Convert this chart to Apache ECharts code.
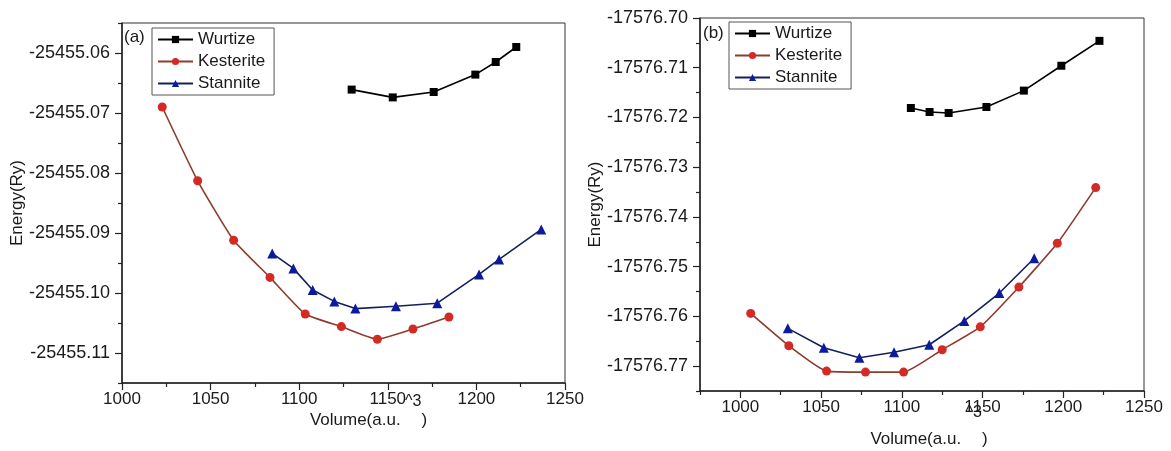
<!DOCTYPE html>
<html>
<head>
<meta charset="utf-8">
<script src="https://cdn.jsdelivr.net/npm/echarts@6/dist/echarts.min.js"></script>
<style>
  html, body { margin: 0; padding: 0; background: #fff; }
  #chart { width: 1171px; height: 451px; }
</style>
</head>
<body>
<div id="chart"></div>
<script>
// Panel (a): total energy versus cell volume
const aVolW = [1129.6, 1152.8, 1175.9, 1199.4, 1210.9, 1222.5];
const aEW   = [-25455.0661, -25455.0674, -25455.0665, -25455.0636, -25455.0615, -25455.0590];
const aVolK = [1022.7, 1042.7, 1063.0, 1083.5, 1103.4, 1123.8, 1144.1, 1164.2, 1184.5];
const aEK   = [-25455.0690, -25455.0813, -25455.0912, -25455.0974, -25455.1035, -25455.1056, -25455.1077, -25455.1060, -25455.1040];
const aVolS = [1084.8, 1096.7, 1107.6, 1119.8, 1131.7, 1154.6, 1177.9, 1201.5, 1212.8, 1236.6];
const aES   = [-25455.0934, -25455.0959, -25455.0995, -25455.1014, -25455.1026, -25455.1022, -25455.1017, -25455.0969, -25455.0944, -25455.0894];

// Panel (b)
const bVolW = [1105.6, 1117.2, 1129.0, 1152.4, 1175.6, 1198.8, 1222.4];
const bEW   = [-17576.7181, -17576.7189, -17576.7191, -17576.7179, -17576.7146, -17576.7096, -17576.7046];
const bVolK = [1006.4, 1030.0, 1053.4, 1077.5, 1101.1, 1125.0, 1148.6, 1172.5, 1196.3, 1220.1];
const bEK   = [-17576.7594, -17576.7659, -17576.7710, -17576.7712, -17576.7712, -17576.7667, -17576.7621, -17576.7541, -17576.7453, -17576.7341];
const bVolS = [1029.4, 1051.7, 1073.7, 1095.2, 1117.0, 1138.7, 1160.4, 1182.0];
const bES   = [-17576.7624, -17576.7663, -17576.7683, -17576.7672, -17576.7657, -17576.7609, -17576.7553, -17576.7483];

// Tick values
const aXMajor = [1000, 1050, 1100, 1150, 1200, 1250];
const aXMinor = [1025, 1075, 1125, 1175, 1225];
const aYMajor = [-25455.06, -25455.07, -25455.08, -25455.09, -25455.10, -25455.11];
const aYMinor = [-25455.055, -25455.065, -25455.075, -25455.085, -25455.095, -25455.105, -25455.115];
const bXMajor = [1000, 1050, 1100, 1150, 1200, 1250];
const bXMinor = [975, 1025, 1075, 1125, 1175, 1225];
const bYMajor = [-17576.70, -17576.71, -17576.72, -17576.73, -17576.74, -17576.75, -17576.76, -17576.77];
const bYMinor = [-17576.705, -17576.715, -17576.725, -17576.735, -17576.745, -17576.755, -17576.765, -17576.775];

const seriesNames = ['Wurtize', 'Kesterite', 'Stannite'];

const FONT = '"Liberation Sans", Arial, sans-serif';
const TXT = '#1a1a1a';
const AXIS = '#222';

const zip = (xs, ys) => xs.map((x, i) => [x, ys[i]]);

function styleFor(name) {
  if (name === 'Wurtize') return { color: '#000', line: '#000', symbol: 'rect', size: 8 };
  if (name === 'Kesterite') return { color: '#d42a25', line: '#8e3a2c', symbol: 'circle', size: 9 };
  return { color: '#0c1a9c', line: '#14205e', symbol: 'triangle', size: 10 };
}

function makeSeries(name, data, gridIdx) {
  const s = styleFor(name);
  return {
    name, type: 'line', data,
    xAxisIndex: gridIdx * 2, yAxisIndex: gridIdx * 2,
    symbol: s.symbol, symbolSize: s.size,
    smooth: name === 'Kesterite' ? 0.15 : false,
    itemStyle: { color: s.color },
    lineStyle: { color: s.line, width: 1.6 },
    emphasis: { disabled: true },
    animation: false
  };
}

// supPad lifts the "^3" exponent above the base line of the axis title
function xAxes(gridIndex, min, max, major, minor, nameGap, shift, supPad) {
  return [{
    type: 'value', gridIndex, min, max,
    name: 'Volume(a.u.{sup| ^3})', nameLocation: 'middle', nameGap, nameMoveOverlap: false,
    nameTextStyle: { fontFamily: FONT, fontSize: 17, color: TXT, padding: [0, 0, 0, shift],
      rich: { sup: { fontFamily: FONT, fontSize: 16, color: TXT, padding: [0, 0, supPad, 0] } } },
    axisLine: { show: true, lineStyle: { color: AXIS, width: 1.5 } },
    axisTick: { show: true, length: 7, lineStyle: { color: AXIS, width: 1.2 }, customValues: major },
    axisLabel: { fontFamily: FONT, fontSize: 17, color: TXT, margin: 8, customValues: major, formatter: v => String(v) },
    splitLine: { show: false }
  }, {
    type: 'value', gridIndex, min, max, position: 'bottom',
    axisLine: { show: false },
    axisTick: { show: true, length: 4, lineStyle: { color: AXIS, width: 1.2 }, customValues: minor },
    axisLabel: { show: false },
    splitLine: { show: false }
  }];
}

function yAxes(gridIndex, min, max, major, minor, nameGap) {
  return [{
    type: 'value', gridIndex, min, max,
    name: 'Energy(Ry)', nameLocation: 'middle', nameGap, nameRotate: 90, nameMoveOverlap: false,
    nameTextStyle: { fontFamily: FONT, fontSize: 17, color: TXT },
    axisLine: { show: true, lineStyle: { color: AXIS, width: 1.5 } },
    axisTick: { show: true, length: 7, lineStyle: { color: AXIS, width: 1.2 }, customValues: major },
    axisLabel: { fontFamily: FONT, fontSize: 18, color: TXT, margin: 12, customValues: major, formatter: v => v.toFixed(2) },
    splitLine: { show: false }
  }, {
    type: 'value', gridIndex, min, max, position: 'left',
    axisLine: { show: false },
    axisTick: { show: true, length: 4, lineStyle: { color: AXIS, width: 1.2 }, customValues: minor },
    axisLabel: { show: false },
    splitLine: { show: false }
  }];
}

function legendAt(left, top) {
  return {
    left, top, orient: 'vertical',
    data: seriesNames,
    itemWidth: 35, itemHeight: 9, itemGap: 5,
    borderColor: '#555', borderWidth: 1, padding: [3, 9, 3, 5],
    textStyle: { fontFamily: FONT, fontSize: 17, color: TXT },
    selectedMode: false
  };
}

const chart = echarts.init(document.getElementById('chart'), null, { renderer: 'canvas' });
chart.setOption({
  backgroundColor: '#fff',
  animation: false,
  title: [
    { text: '(a)', left: 124, top: 29, padding: 0, textStyle: { fontFamily: FONT, fontSize: 17, fontWeight: 'normal', color: TXT } },
    { text: '(b)', left: 703, top: 25, padding: 0, textStyle: { fontFamily: FONT, fontSize: 17, fontWeight: 'normal', color: TXT } }
  ],
  legend: [legendAt(152, 28), legendAt(729, 22)],
  grid: [
    { left: 122, top: 23, width: 443, height: 360, outerBoundsMode: 'none', show: true, borderColor: '#333', borderWidth: 1, backgroundColor: 'transparent' },
    { left: 700, top: 18, width: 444, height: 373, outerBoundsMode: 'none', show: true, borderColor: '#333', borderWidth: 1, backgroundColor: 'transparent' }
  ],
  xAxis: [
    ...xAxes(0, 1000, 1250, aXMajor, aXMinor, 11, 50, 36),
    ...xAxes(1, 975, 1250, bXMajor, bXMinor, 14, 14, 52)
  ],
  yAxis: [
    ...yAxes(0, -25455.115, -25455.055, aYMajor, aYMinor, 96),
    ...yAxes(1, -17576.775, -17576.70, bYMajor, bYMinor, 96)
  ],
  series: [
    makeSeries('Wurtize', zip(aVolW, aEW), 0),
    makeSeries('Kesterite', zip(aVolK, aEK), 0),
    makeSeries('Stannite', zip(aVolS, aES), 0),
    makeSeries('Wurtize', zip(bVolW, bEW), 1),
    makeSeries('Kesterite', zip(bVolK, bEK), 1),
    makeSeries('Stannite', zip(bVolS, bES), 1)
  ]
});
</script>
</body>
</html>
